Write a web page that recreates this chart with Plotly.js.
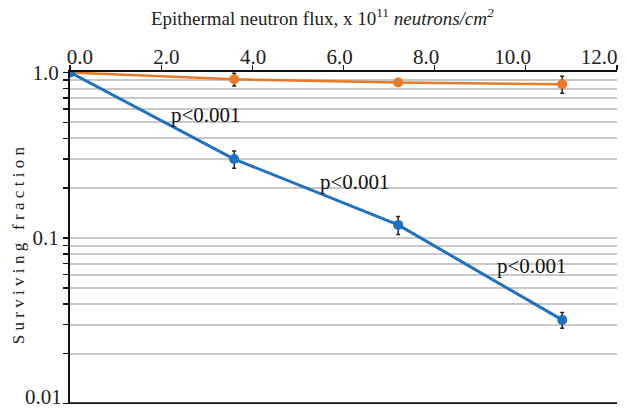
<!DOCTYPE html>
<html>
<head>
<meta charset="utf-8">
<script src="https://cdn.plot.ly/plotly-3.0.1.min.js"></script>
<style>body{margin:0;padding:0;background:#fff}#chart{width:627px;height:412px}</style>
</head>
<body>
<div id="chart"></div>
<script>
// Data
const flux = [0, 3.6, 7.2, 10.8];
const treated = [1.0, 0.30, 0.12, 0.032];
const treatedErr = [0.0, 0.036, 0.015, 0.0035];
const control = [1.0, 0.91, 0.87, 0.85];
const controlErr = [0.0, 0.08, 0.02, 0.1];
const xTickVals = [0, 2, 4, 6, 8, 10, 12];
const xTickText = ["0.0", "2.0", "4.0", "6.0", "8.0", "10.0", "12.0"];
const yTickVals = [0.01,0.02,0.03,0.04,0.05,0.06,0.07,0.08,0.09,0.1,0.2,0.3,0.4,0.5,0.6,0.7,0.8,0.9,1.0];
const yTickText = yTickVals.map(v => v === 1 ? "1.0" : (v === 0.1 ? "0.1" : ""));
const yBottomLabel = {value: 0.01, text: "0.01"};
const pLabels = [
  {x: 2.99, y: 0.55, text: "p<0.001"},
  {x: 6.25, y: 0.218, text: "p<0.001"},
  {x: 10.13, y: 0.068, text: "p<0.001"}
];

const serif = "Liberation Serif, Times New Roman, serif";

const traces = [
  {
    x: flux, y: control, type: "scatter", mode: "lines+markers",
    line: {color: "#e87a26", width: 2.5},
    marker: {color: "#e87a26", size: 10},
    error_y: {type: "data", array: controlErr, visible: true, color: "#222", thickness: 1.5, width: 2},
    showlegend: false
  },
  {
    x: flux, y: treated, type: "scatter", mode: "lines+markers",
    line: {color: "#1f70c1", width: 3},
    marker: {color: "#1f70c1", size: 10},
    error_y: {type: "data", array: treatedErr, visible: true, color: "#222", thickness: 1.5, width: 2},
    showlegend: false
  },
  // invisible trace carrying the top tick-label axis
  {x: [0], y: [1], xaxis: "x2", yaxis: "y", mode: "markers", marker: {opacity: 0}, hoverinfo: "skip", showlegend: false}
];

const annotations = pLabels.map(p => ({
  x: p.x, y: Math.log10(p.y), xref: "x", yref: "y", text: p.text,
  showarrow: false, font: {family: serif, size: 21, color: "#111"}
}));
annotations.push({
  x: -0.094, y: 0.485, xref: "paper", yref: "paper", xanchor: "center", yanchor: "middle",
  text: "Surviving fraction",
  textangle: -90, showarrow: false, font: {family: serif, size: 17, color: "#222"}
});
annotations.push({
  x: 0, y: Math.log10(yBottomLabel.value), xref: "paper", yref: "y", xanchor: "right", yanchor: "bottom",
  xshift: -6, yshift: -7, text: yBottomLabel.text, showarrow: false,
  font: {family: serif, size: 21, color: "#222"}
});

const layout = {
  width: 627, height: 412,
  margin: {l: 70, r: 10, t: 72, b: 8},
  paper_bgcolor: "#fff", plot_bgcolor: "#fff",
  title: {text: "Epithermal neutron flux, x 10<sup>11</sup> <i>neutrons/cm<sup>2</sup></i>",
    font: {family: serif, size: 19, color: "#222"}, x: 0.514, xanchor: "center", y: 0.955, yanchor: "middle"},
  xaxis: {
    side: "top", range: [-0.003, 12.003],
    tickvals: xTickVals, showticklabels: false,
    showgrid: false, zeroline: false, showline: true, linecolor: "#111", linewidth: 2,
    ticks: "outside", ticklen: 5, tickwidth: 1.5, tickcolor: "#111"
  },
  xaxis2: {
    overlaying: "x", side: "top", range: [-0.231, 12.416],
    tickvals: xTickVals, ticktext: xTickText,
    showgrid: false, zeroline: false, showline: false, ticks: "",
    ticklabelstandoff: 3,
    tickfont: {family: serif, size: 21, color: "#222"}
  },
  yaxis: {
    type: "log", range: [-2.003, 0.003], tickvals: yTickVals, ticktext: yTickText,
    showgrid: true, gridcolor: "#c8c8c8", gridwidth: 2,
    zeroline: false, showline: true, linecolor: "#111", linewidth: 2,
    ticks: "outside", ticklen: 5, tickwidth: 1.5, tickcolor: "#111",
    tickfont: {family: serif, size: 21, color: "#222"}
  },
  shapes: [
    {type: "line", xref: "paper", yref: "y", x0: 0, x1: 1, y0: 0.1, y1: 0.1, line: {color: "#111", width: 2}, layer: "below"},
    {type: "line", xref: "paper", yref: "y", x0: 0, x1: 1, y0: 0.01, y1: 0.01, line: {color: "#111", width: 2.5}, layer: "above"}
  ],
  annotations: annotations
};

Plotly.newPlot("chart", traces, layout, {displayModeBar: false, staticPlot: true}).then(() => {
  document.querySelectorAll(".annotation-text").forEach(el => {
    if (el.textContent === "Surviving fraction") el.style.letterSpacing = "4.3px";
  });
});
</script>
</body>
</html>
